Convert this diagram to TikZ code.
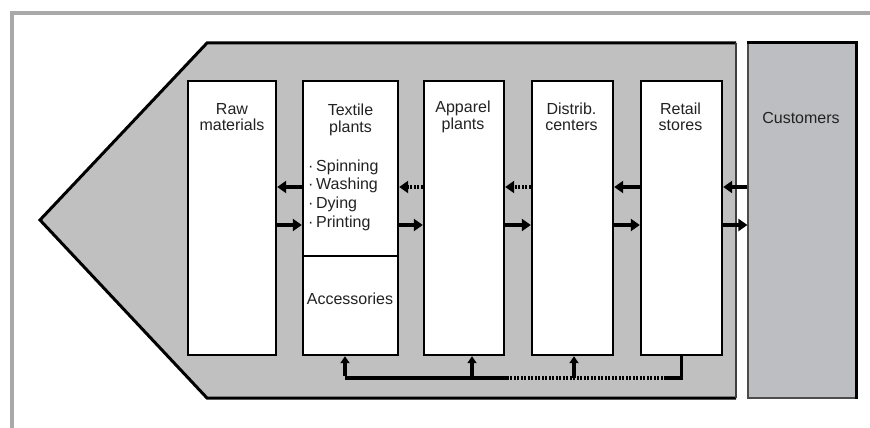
\documentclass[tikz,border=0pt]{standalone}
\usepackage{fontspec}
\setmainfont{Liberation Sans}
\usetikzlibrary{arrows.meta}
\definecolor{penfill}{HTML}{C0C0C0}
\definecolor{custfill}{HTML}{BDBEC1}
\definecolor{framec}{HTML}{A9A9A9}
\definecolor{txt}{HTML}{222222}
\begin{document}
\begin{tikzpicture}[x=1pt,y=-1pt,
  box/.style={draw=black, line width=2.4pt, fill=white, minimum width=#1, minimum height=274pt, inner sep=0pt},
  lbl/.style={font=\fontsize{16}{16.5}\selectfont, text=txt, align=center, inner sep=0pt},
  arr/.style={line width=4.5pt, -{Triangle[length=9pt,width=12pt]}},
  uparr/.style={line width=3.2pt, -{Triangle[length=7pt,width=9pt]}},
  dotarr/.style={arr, dash pattern=on 2pt off 1.5pt},
  fbline/.style={line width=3.6pt},
  fbdot/.style={line width=3.6pt, dash pattern=on 2pt off 1.5pt}]
\useasboundingbox (0,0) rectangle (870,428);
\fill[white] (0,0) rectangle (870,428);
% outer frame
\draw[framec, line width=4pt] (12,430) -- (12,13) -- (872,13);
% pentagon
\coordinate (pTL) at (207,43);
\coordinate (pTR) at (736,43);
\coordinate (pBR) at (736,398);
\coordinate (pBL) at (207,398);
\coordinate (pTip) at (40,220);
\fill[penfill] (pTL) -- (pTR) -- (pBR) -- (pBL) -- (pTip) -- cycle;
\draw[line width=3pt, line join=miter] (pTR) -- (pTL) -- (pTip) -- (pBL) -- (pBR);
\draw[line width=1.3pt, black!75] (pTR) -- (pBR);
% customers
\node[draw=black!70, line width=1.2pt, fill=custfill, minimum width=108pt, minimum height=355pt, inner sep=0pt] (Cust) at (802,220.5) {};
\draw[line width=3pt] (Cust.north west) -- (Cust.north east) -- (Cust.south east);
\node[lbl] (CustL) at (801,118) {Customers};
% boxes
\node[box=88pt] (Raw) at (232,218) {};
\node[box=95pt] (Tex) at (350.5,218) {};
\node[box=80pt] (App) at (464,218) {};
\node[box=81pt] (Dis) at (572.5,218) {};
\node[box=81pt] (Ret) at (681.5,218) {};
% labels
\node[lbl] (RawL) at (232,117) {Raw\\materials};
\node[lbl] (TexL) at (350.5,120) {Textile\\plants};
\node[lbl] (AppL) at (463,117) {Apparel\\plants};
\node[lbl] (DisL) at (571.5,117) {Distrib.\\centers};
\node[lbl] (RetL) at (680.5,117) {Retail\\stores};
\node[lbl, align=left, anchor=west, font=\fontsize{16}{18.7}\selectfont] (TexB) at (308,195) {·\,Spinning\\·\,Washing\\·\,Dying\\·\,Printing};
\coordinate (div) at (0,256);
\draw[line width=1.5pt] (Tex.west |- div) -- (Tex.east |- div);
\node[lbl] (AccL) at (350,299) {Accessories};
% horizontal arrows
\coordinate (yL) at (0,187);
\coordinate (yR) at (0,225);
\draw[arr] (Tex.west |- yL) -- (Raw.east |- yL);
\draw[dotarr] (App.west |- yL) -- (Tex.east |- yL);
\draw[dotarr] (Dis.west |- yL) -- (App.east |- yL);
\draw[arr] (Ret.west |- yL) -- (Dis.east |- yL);
\draw[arr] (Cust.west |- yL) -- (Ret.east |- yL);
\draw[arr] (Raw.east |- yR) -- (Tex.west |- yR);
\draw[arr] (Tex.east |- yR) -- (App.west |- yR);
\draw[arr] (App.east |- yR) -- (Dis.west |- yR);
\draw[arr] (Dis.east |- yR) -- (Ret.west |- yR);
\draw[arr] (Ret.east |- yR) -- (Cust.west |- yR);
% feedback loop
\coordinate (fb) at (0,378);
\coordinate (fbR) at (Ret.south |- fb);
\coordinate (d1) at (666,378);
\coordinate (d2) at (508,378);
\coordinate (tA) at (345,378);
\coordinate (aA) at (472,378);
\coordinate (dA) at (574,378);
\draw[fbline, line join=miter] (Ret.south) -- (fbR) -- (d1);
\draw[fbdot] (d1) -- (d2);
\draw[fbline] (d2) -- (tA);
\draw[uparr] ([yshift=1.8pt]tA) -- (tA |- Tex.south);
\draw[uparr] (aA) -- (aA |- App.south);
\draw[uparr] (dA) -- (dA |- Dis.south);
\end{tikzpicture}
\end{document}
